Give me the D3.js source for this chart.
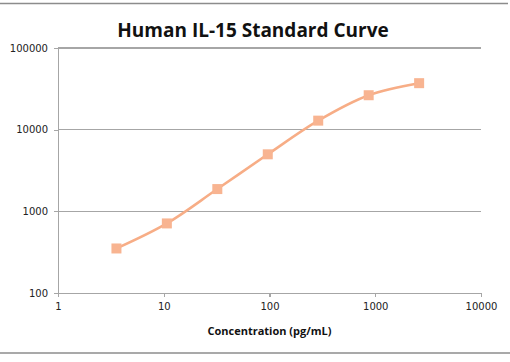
<!DOCTYPE html>
<html>
<head>
<meta charset="utf-8">
<style>
  body { margin: 0; background: #fff; }
  svg { display: block; }
  .tick text { font: 10px "DejaVu Sans", sans-serif; fill: #222; }
  .grid line { stroke: #a6a6a6; stroke-width: 1.3px; shape-rendering: crispEdges; }
  .axis path, .axis line { stroke: #a6a6a6; stroke-width: 1.3px; shape-rendering: crispEdges; }
</style>
<script src="https://cdn.jsdelivr.net/npm/d3@7"></script>
</head>
<body>
<div id="chart"></div>
<script>
// standard curve points (3-fold dilution series)
var concentration = [3.57, 10.7, 32.1, 96.3, 288.9, 866.7, 2600];
var signal = [351, 711, 1873, 4990, 12900, 26400, 37100];
var xTicks = [1, 10, 100, 1000, 10000];
var yTicks = [100, 1000, 10000, 100000];

var W = 510, H = 362;
var margin = {top: 48, right: 29, bottom: 69, left: 58};
var width = W - margin.left - margin.right,
    height = H - margin.top - margin.bottom;

var svg = d3.select("#chart").append("svg")
  .attr("width", W)
  .attr("height", H);

// outer chart border (top / bottom lines only visible)
svg.append("line").attr("x1", 0).attr("x2", 508).attr("y1", 3.5).attr("y2", 3.5)
  .attr("stroke", "#8c8c8c").attr("stroke-width", 1.5);
svg.append("line").attr("x1", 0).attr("x2", 510).attr("y1", 353).attr("y2", 353)
  .attr("stroke", "#8c8c8c").attr("stroke-width", 1.5);

var g = svg.append("g")
  .attr("transform", "translate(" + margin.left + "," + margin.top + ")");

var x = d3.scaleLog().domain([1, 10000]).range([0, width]);
var y = d3.scaleLog().domain([100, 100000]).range([height, 0]);

// horizontal gridlines
g.append("g").attr("class", "grid")
  .selectAll("line")
  .data(yTicks.slice(1))
  .enter().append("line")
  .attr("x1", 0).attr("x2", width)
  .attr("y1", function (d) { return y(d); })
  .attr("y2", function (d) { return y(d); });

var xAxis = d3.axisBottom(x).tickValues(xTicks).tickFormat(d3.format("d"))
  .tickSizeOuter(0).tickSizeInner(4).tickPadding(6);
var yAxis = d3.axisLeft(y).tickValues(yTicks).tickFormat(d3.format("d"))
  .tickSizeOuter(0).tickSizeInner(4).tickPadding(6);

g.append("g").attr("class", "axis")
  .attr("transform", "translate(0," + height + ")")
  .call(xAxis);
g.append("g").attr("class", "axis")
  .call(yAxis);

var line = d3.line()
  .x(function (d, i) { return x(concentration[i]); })
  .y(function (d) { return y(d); })
  .curve(d3.curveCatmullRom.alpha(0.5));

g.append("path")
  .datum(signal)
  .attr("fill", "none")
  .attr("stroke", "#f7ad86")
  .attr("stroke-width", 2.5)
  .attr("d", line);

g.selectAll(".pt")
  .data(signal)
  .enter().append("rect")
  .attr("class", "pt")
  .attr("x", function (d, i) { return x(concentration[i]) - 5; })
  .attr("y", function (d) { return y(d) - 5; })
  .attr("width", 10)
  .attr("height", 10)
  .attr("fill", "#f8b491");

// title
svg.append("text")
  .attr("x", 253)
  .attr("y", 37)
  .attr("text-anchor", "middle")
  .style("font", "bold 19px 'Open Sans', sans-serif")
  .style("fill", "#111")
  .text("Human IL-15 Standard Curve");

// x axis title
svg.append("text")
  .attr("x", margin.left + width / 2)
  .attr("y", 335)
  .attr("text-anchor", "middle")
  .style("font", "bold 11px 'Open Sans', sans-serif")
  .style("fill", "#111")
  .text("Concentration (pg/mL)");
</script>
</body>
</html>
